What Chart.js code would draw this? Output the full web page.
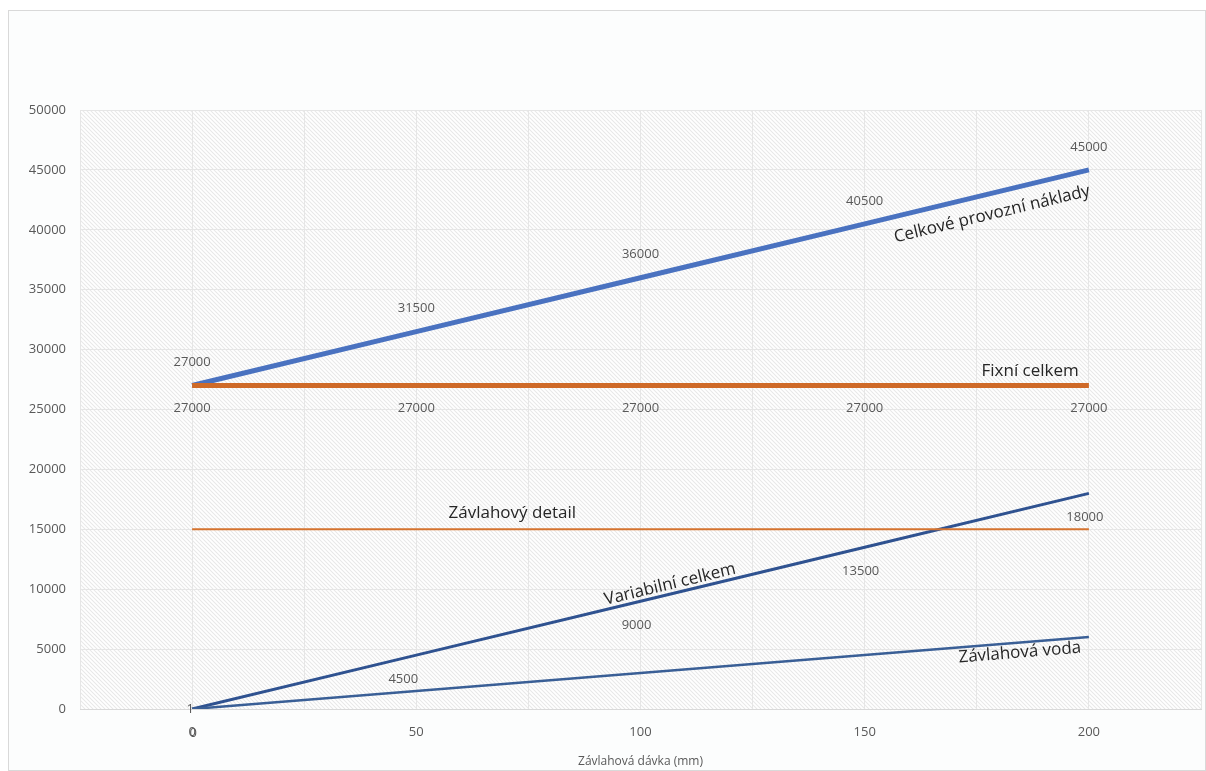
<!DOCTYPE html>
<html><head><meta charset="utf-8">
<script src="https://cdn.jsdelivr.net/npm/chart.js@4/dist/chart.umd.min.js"></script>
<style>
html,body{margin:0;padding:0;background:#fff;}
#wrap{position:absolute;left:0;top:0;width:1206px;height:771px;}
#frame{position:absolute;left:8px;top:10px;width:1198px;height:761px;border:1px solid #d9d9d9;background:#fcfdfd;box-sizing:border-box;}
canvas{position:absolute;left:0;top:0;}
</style></head>
<body><div id="wrap"><div id="frame"></div><canvas id="c" width="1206" height="771"></canvas></div>
<script>
const xValues = [0, 50, 100, 150, 200];
const celkove = [27000, 31500, 36000, 40500, 45000];
const fixni = [27000, 27000, 27000, 27000, 27000];
const variabilni = [0, 4500, 9000, 13500, 18000];
const detail = [15000, 15000, 15000, 15000, 15000];
const voda = [0, 1500, 3000, 4500, 6000];
const xTickLabels = [0, 50, 100, 150, 200];
const yTicks = [0,5000,10000,15000,20000,25000,30000,35000,40000,45000,50000];
const xTitle = 'Závlahová dávka (mm)';
const seriesNames = ['Celkové provozní náklady','Fixní celkem','Variabilní celkem','Závlahový detail','Závlahová voda'];
// annotation anchors in data space: [x, y, angle in degrees]
const nameAnchors = [[178.4, 41300, -13.5],[186.9, 28214, 0],[106.6, 10400, -13.5],[71.4, 16361, 0],[184.6, 4700, -4.6]];

function pts(arr){ return xValues.map((x,i)=>({x:x,y:arr[i]})); }

const patCanvas = document.createElement('canvas');
patCanvas.width = 4; patCanvas.height = 4;
(function(){
  const p = patCanvas.getContext('2d');
  p.fillStyle = '#ffffff'; p.fillRect(0,0,4,4);
  p.strokeStyle = '#e8e8e8'; p.lineWidth = 1.1;
  p.beginPath(); p.moveTo(-1,-1); p.lineTo(5,5); p.stroke();
  p.beginPath(); p.moveTo(3,-1); p.lineTo(5,1); p.stroke();
  p.beginPath(); p.moveTo(-1,3); p.lineTo(1,5); p.stroke();
})();

const bgPlugin = {
  id:'bg',
  beforeDraw(chart){
    const {ctx, chartArea:a} = chart;
    ctx.save();
    ctx.fillStyle = ctx.createPattern(patCanvas,'repeat');
    ctx.fillRect(a.left, a.top, a.right-a.left, a.bottom-a.top);
    ctx.restore();
  }
};

const labelPlugin = {
  id:'labels',
  afterDatasetsDraw(chart){
    const ctx = chart.ctx, xs = chart.scales.x, ys = chart.scales.y;
    ctx.save();
    ctx.font = '13px "Open Sans", sans-serif';
    ctx.fillStyle = '#595959';
    ctx.textAlign = 'center'; ctx.textBaseline = 'middle';
    xValues.forEach((x,i)=>{
      ctx.fillText(String(celkove[i]), xs.getPixelForValue(x), ys.getPixelForValue(celkove[i]) - 23);
      ctx.fillText(String(fixni[i]), xs.getPixelForValue(x), ys.getPixelForValue(fixni[i]) + 23);
      ctx.fillText(String(variabilni[i]), xs.getPixelForValue(x) + (i===0?1:(i===1?-13:-4)), ys.getPixelForValue(variabilni[i]) + 24);
    });
    ctx.fillText('1', xs.getPixelForValue(xValues[0]) - 2, ys.getPixelForValue(voda[0]));
    ctx.font = '17px "Open Sans", sans-serif';
    ctx.fillStyle = '#262626';
    seriesNames.forEach((n,i)=>{
      const [ax,ay,ang] = nameAnchors[i];
      ctx.save();
      ctx.translate(xs.getPixelForValue(ax), ys.getPixelForValue(ay));
      ctx.rotate(ang*Math.PI/180);
      ctx.fillText(n, 0, 0);
      ctx.restore();
    });
    ctx.restore();
  }
};

new Chart(document.getElementById('c'), {
  type:'scatter',
  data:{datasets:[
    {label:seriesNames[3], data:pts(detail), showLine:true, borderColor:'#d5732f', borderWidth:2, pointRadius:0},
    {label:seriesNames[4], data:pts(voda), showLine:true, borderColor:'#3a5f96', borderWidth:2.5, pointRadius:0},
    {label:seriesNames[2], data:pts(variabilni), showLine:true, borderColor:'#2f5290', borderWidth:3, pointRadius:0},
    {label:seriesNames[1], data:pts(fixni), showLine:true, borderColor:'#cf6a28', borderWidth:5, pointRadius:0},
    {label:seriesNames[0], data:pts(celkove), showLine:true, borderColor:'#4a72c0', borderWidth:5, pointRadius:0}
  ]},
  options:{
    responsive:false, animation:false,
    layout:{padding:{left:0,right:5,top:110,bottom:0}},
    plugins:{legend:{display:false}, tooltip:{enabled:false}},
    scales:{
      x:{type:'linear', min:-25, max:225,
        afterBuildTicks(s){ s.ticks = []; for(let v=-25; v<=225; v+=25) s.ticks.push({value:v}); },
        ticks:{color:'#595959', font:{size:13, family:'"Open Sans", sans-serif'}, padding:15, maxRotation:0, autoSkip:false,
          callback:(v)=> xTickLabels.includes(v) ? String(v) : ''},
        grid:{color:'#e6e6e6', lineWidth:1, drawTicks:false},
        border:{color:'#d9d9d9'},
        title:{display:true, text:xTitle, color:'#595959', font:{size:12, family:'"Open Sans", sans-serif'}, padding:{top:4,bottom:2}},
        afterFit(s){ s.height = 62; s.paddingLeft = 0; s.paddingRight = 0; }
      },
      y:{type:'linear', min:0, max:50000,
        afterBuildTicks(s){ s.ticks = yTicks.map(v=>({value:v})); },
        ticks:{color:'#595959', font:{size:13, family:'"Open Sans", sans-serif'}, padding:14, callback:(v)=>String(v)},
        grid:{color:'#e6e6e6', lineWidth:1, drawTicks:false},
        border:{display:false},
        afterFit(s){ s.width = 80; s.paddingTop = 0; s.paddingBottom = 0; }
      }
    }
  },
  plugins:[bgPlugin, labelPlugin]
});
</script></body></html>
